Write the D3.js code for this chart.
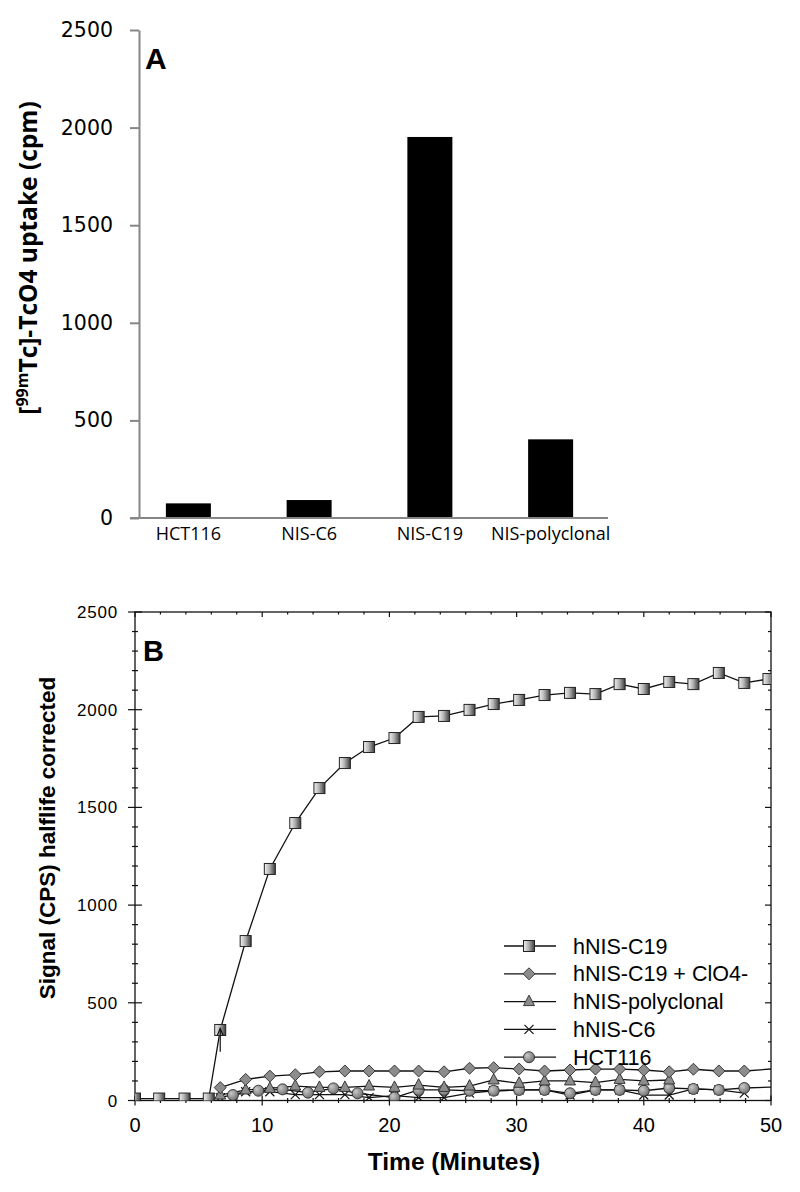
<!DOCTYPE html>
<html><head><meta charset="utf-8">
<script src="https://cdn.jsdelivr.net/npm/d3@7"></script>
<style>body{margin:0;background:#fff}</style>
</head><body>
<svg id="c" width="800" height="1192" xmlns="http://www.w3.org/2000/svg"></svg>
<script>
// ---------- Panel A data ----------
const catA = ["HCT116", "NIS-C6", "NIS-C19", "NIS-polyclonal"];
const uptakeA = [75, 92, 1952, 403];
const ticksA = [0, 500, 1000, 1500, 2000, 2500];

// ---------- Panel B data ----------
const ticksBy = [0, 500, 1000, 1500, 2000, 2500];
const ticksBx = [0, 10, 20, 30, 40, 50];
const legendB = ["hNIS-C19", "hNIS-C19 + ClO4-", "hNIS-polyclonal", "hNIS-C6", "HCT116"];

const timeC19 = [0, 1.9, 3.9, 5.8, 6.7, 8.7, 10.6, 12.6, 14.5, 16.5, 18.4, 20.4, 22.3, 24.3, 26.3, 28.2, 30.2, 32.2, 34.2, 36.2, 38.1, 40.0, 42.0, 43.9, 45.9, 47.9, 49.8];
const valC19 = [10, 10, 10, 10, 361, 816, 1185, 1420, 1599, 1727, 1809, 1855, 1963, 1968, 1999, 2029, 2050, 2075, 2086, 2080, 2131, 2106, 2142, 2131, 2188, 2137, 2157];

const timeClO4 = [6.7, 8.7, 10.6, 12.6, 14.5, 16.5, 18.4, 20.4, 22.3, 24.3, 26.3, 28.2, 30.2, 32.2, 34.2, 36.2, 38.1, 40.0, 42.0, 43.9, 45.9, 47.9, 50.8];
const valClO4 = [66, 108, 125, 132, 147, 151, 151, 151, 151, 147, 165, 168, 161, 151, 156, 161, 161, 156, 147, 160, 151, 151, 165];

const timePoly = [6.7, 8.7, 10.6, 12.6, 14.5, 16.5, 18.4, 20.4, 22.3, 24.3, 26.3, 28.2, 30.2, 32.2, 34.2, 36.2, 38.1, 40.0, 42.0];
const valPoly = [28, 54, 62, 74, 67, 67, 74, 67, 79, 67, 74, 105, 88, 100, 100, 91, 108, 100, 105];

const timeC6 = [6.7, 8.7, 10.6, 12.6, 14.5, 16.5, 18.4, 20.4, 22.3, 24.3, 26.3, 28.2, 30.2, 32.2, 34.2, 36.2, 38.1, 40.0, 42.0, 43.9, 45.9, 47.9];
const valC6 = [15, 45, 45, 30, 30, 30, 15, 25, 15, 15, 38, 50, 54, 54, 28, 54, 54, 28, 28, 59, 54, 38];

const timeHCT = [7.7, 9.7, 11.6, 13.6, 15.6, 17.5, 20.4, 22.3, 24.3, 26.3, 28.2, 30.2, 32.2, 34.2, 36.2, 38.1, 40.0, 42.0, 43.9, 45.9, 47.9, 50.8];
const valHCT = [28, 50, 57, 40, 62, 37, 15, 54, 54, 50, 50, 54, 54, 37, 54, 54, 50, 64, 59, 54, 64, 70];

const arrowTime = 6.7, arrowFrom = 250, arrowTo = 368;

const svg = d3.select("#c");
const defs = svg.append("defs");
const sg = defs.append("linearGradient").attr("id", "sqGrad").attr("x1", "0").attr("x2", "1").attr("y1", "0").attr("y2", "0");
sg.append("stop").attr("offset", "0").attr("stop-color", "#f2f2f2");
sg.append("stop").attr("offset", "0.45").attr("stop-color", "#b4b4b4");
sg.append("stop").attr("offset", "1").attr("stop-color", "#3c3c3c");
const cg = defs.append("radialGradient").attr("id", "cGrad").attr("cx", "0.35").attr("cy", "0.35").attr("r", "0.7");
cg.append("stop").attr("offset", "0").attr("stop-color", "#c8c8c8");
cg.append("stop").attr("offset", "1").attr("stop-color", "#6e6e6e");

// ================= Panel A =================
const gA = svg.append("g");
const yA = d3.scaleLinear().domain([0, 2500]).range([518, 30]);
const xA = d3.scaleBand().domain(catA).range([128, 611]);
const barW = 45;

gA.selectAll("rect.bar").data(catA).join("rect")
  .attr("class", "bar")
  .attr("x", d => xA(d) + xA.bandwidth() / 2 - barW / 2)
  .attr("width", barW)
  .attr("y", (d, i) => yA(uptakeA[i]))
  .attr("height", (d, i) => yA(0) - yA(uptakeA[i]))
  .attr("fill", "#000");

const axA = gA.append("g").attr("transform", "translate(139,0)")
  .call(d3.axisLeft(yA).tickValues(ticksA).tickFormat(d3.format("d")).tickSize(9).tickPadding(17).tickSizeOuter(0));
axA.select(".domain").attr("stroke", "#868686").attr("stroke-width", 2);
axA.selectAll(".tick line").attr("stroke", "#868686").attr("stroke-width", 2);
axA.selectAll(".tick text")
  .style("font-family", "'DejaVu Sans', sans-serif").style("font-size", "20.5px").style("fill", "#000");

gA.append("line").attr("x1", 130).attr("x2", 608).attr("y1", yA(0)).attr("y2", yA(0))
  .attr("stroke", "#868686").attr("stroke-width", 2);

gA.selectAll("text.cat").data(catA).join("text")
  .attr("class", "cat")
  .attr("x", d => xA(d) + xA.bandwidth() / 2)
  .attr("y", 540)
  .attr("text-anchor", "middle")
  .attr("font-family", "'Open Sans', sans-serif").attr("font-size", 18)
  .text(d => d);

const yLabA = gA.append("text")
  .attr("transform", "translate(37,258) rotate(-90)")
  .attr("text-anchor", "middle")
  .attr("font-family", "'Open Sans', sans-serif").attr("font-weight", "bold").attr("font-size", 24.5);
yLabA.append("tspan").text("[");
yLabA.append("tspan").attr("font-size", 16).attr("dy", -9).text("99m");
yLabA.append("tspan").attr("dy", 9).text("Tc]-TcO4 uptake (cpm)");

gA.append("text").attr("x", 145).attr("y", 69)
  .attr("font-family", "'Liberation Sans', Arial, sans-serif").attr("font-weight", "bold").attr("font-size", 30)
  .text("A");

// ================= Panel B =================
const gB = svg.append("g");
const xB = d3.scaleLinear().domain([0, 50]).range([135, 771]);
const yB = d3.scaleLinear().domain([0, 2500]).range([1100.5, 612]);
const L = xB(0), R = xB(50), T = yB(2500), B = yB(0);

defs.append("clipPath").attr("id", "clipB").append("rect")
  .attr("x", L).attr("y", T).attr("width", R - L).attr("height", B - T);

// ticks
const tk = gB.append("g").attr("stroke", "#111").attr("stroke-width", 1.2);
d3.range(0, 2501, 100).forEach(v => {
  const major = v % 500 === 0;
  const y = yB(v);
  tk.append("line").attr("x1", L - (major ? 7 : 3)).attr("x2", L + (major ? 7 : 3)).attr("y1", y).attr("y2", y);
  tk.append("line").attr("x1", R - (major ? 6 : 3)).attr("x2", R).attr("y1", y).attr("y2", y);
});
d3.range(0, 51, 2).forEach(v => {
  const major = v % 10 === 0;
  const x = xB(v);
  tk.append("line").attr("x1", x).attr("x2", x).attr("y1", B - (major ? 5 : 2.5)).attr("y2", B + (major ? 5 : 2.5));
  tk.append("line").attr("x1", x).attr("x2", x).attr("y1", T).attr("y2", T + (major ? 5 : 2.5));
});
gB.append("rect").attr("x", L).attr("y", T).attr("width", R - L).attr("height", B - T)
  .attr("fill", "none").attr("stroke", "#111").attr("stroke-width", 1.3);

gB.selectAll("text.yt").data(ticksBy).join("text").attr("class", "yt")
  .attr("x", 118).attr("y", d => yB(d) + 6)
  .attr("text-anchor", "end")
  .attr("font-family", "'Liberation Sans', Arial, sans-serif").attr("font-size", 17).attr("letter-spacing", 0.8)
  .text(d => d);
gB.selectAll("text.xt").data(ticksBx).join("text").attr("class", "xt")
  .attr("x", d => xB(d)).attr("y", 1132)
  .attr("text-anchor", "middle")
  .attr("font-family", "'Liberation Sans Narrow', 'Liberation Sans', sans-serif").attr("font-size", 20)
  .text(d => d);

gB.append("text").attr("x", (L + R) / 2 + 1).attr("y", 1170)
  .attr("text-anchor", "middle")
  .attr("font-family", "'Liberation Sans', Arial, sans-serif").attr("font-weight", "bold").attr("font-size", 24.5)
  .text("Time (Minutes)");
gB.append("text").attr("transform", "translate(55,838) rotate(-90)")
  .attr("text-anchor", "middle")
  .attr("font-family", "'Liberation Sans', Arial, sans-serif").attr("font-weight", "bold").attr("font-size", 22.5)
  .text("Signal (CPS) halflife corrected");
gB.append("text").attr("x", 143).attr("y", 661)
  .attr("font-family", "'Liberation Sans', Arial, sans-serif").attr("font-weight", "bold").attr("font-size", 29)
  .text("B");

function marker(g, type, x, y) {
  if (type === "square") {
    g.append("rect").attr("x", x - 5.5).attr("y", y - 5.5).attr("width", 11).attr("height", 11)
      .attr("fill", "url(#sqGrad)").attr("stroke", "#222").attr("stroke-width", 1);
  } else if (type === "diamond") {
    g.append("path").attr("d", `M${x},${y - 6}L${x + 6},${y}L${x},${y + 6}L${x - 6},${y}Z`)
      .attr("fill", "#8c8c8c").attr("stroke", "#2a2a2a").attr("stroke-width", 0.9);
  } else if (type === "triangle") {
    g.append("path").attr("d", `M${x},${y - 6.5}L${x + 5.5},${y + 4}L${x - 5.5},${y + 4}Z`)
      .attr("fill", "#8c8c8c").attr("stroke", "#2a2a2a").attr("stroke-width", 0.9);
  } else if (type === "x") {
    g.append("path").attr("d", `M${x - 4.5},${y - 4.5}L${x + 4.5},${y + 4.5}M${x - 4.5},${y + 4.5}L${x + 4.5},${y - 4.5}`)
      .attr("stroke", "#111").attr("stroke-width", 1.2).attr("fill", "none");
  } else if (type === "circle") {
    g.append("circle").attr("cx", x).attr("cy", y).attr("r", 5.5)
      .attr("fill", "url(#cGrad)").attr("stroke", "#2a2a2a").attr("stroke-width", 0.9);
  }
}

const series = [
  { name: legendB[0], t: timeC19, v: valC19, m: "square" },
  { name: legendB[1], t: timeClO4, v: valClO4, m: "diamond" },
  { name: legendB[2], t: timePoly, v: valPoly, m: "triangle" },
  { name: legendB[4], t: timeHCT, v: valHCT, m: "circle" },
  { name: legendB[3], t: timeC6, v: valC6, m: "x" }
];
const plot = gB.append("g").attr("clip-path", "url(#clipB)");
const lineGen = d3.line().x(d => xB(d[0])).y(d => yB(d[1]));
series.slice().reverse().forEach(s => {
  const pts = s.t.map((t, i) => [t, s.v[i]]);
  plot.append("path").attr("d", lineGen(pts)).attr("fill", "none").attr("stroke", "#111").attr("stroke-width", 1.3);
});
series.slice().reverse().forEach(s => {
  const g = plot.append("g");
  s.t.forEach((t, i) => marker(g, s.m, xB(t), yB(s.v[i])));
});

// arrow annotation
const ax = xB(arrowTime);
plot.append("line").attr("x1", ax).attr("x2", ax).attr("y1", yB(arrowFrom)).attr("y2", yB(arrowTo))
  .attr("stroke", "#111").attr("stroke-width", 1.2);
plot.append("path").attr("d", `M${ax - 3},${yB(arrowTo) + 7}L${ax},${yB(arrowTo)}L${ax + 3},${yB(arrowTo) + 7}`)
  .attr("fill", "none").attr("stroke", "#111").attr("stroke-width", 1.2);

// legend
const legMarks = { "hNIS-C19": "square", "hNIS-C19 + ClO4-": "diamond", "hNIS-polyclonal": "triangle", "hNIS-C6": "x", "HCT116": "circle" };
const lg = gB.append("g");
legendB.forEach((name, i) => {
  const y = 946 + i * 27.8;
  lg.append("line").attr("x1", 504).attr("x2", 556).attr("y1", y).attr("y2", y).attr("stroke", "#111").attr("stroke-width", 1.3);
  marker(lg, legMarks[name], 529, y);
  lg.append("text").attr("x", 573).attr("y", y + 7.5)
    .attr("font-family", "'Liberation Sans', Arial, sans-serif").attr("font-size", 21.5)
    .text(name);
});
</script>
</body></html>
